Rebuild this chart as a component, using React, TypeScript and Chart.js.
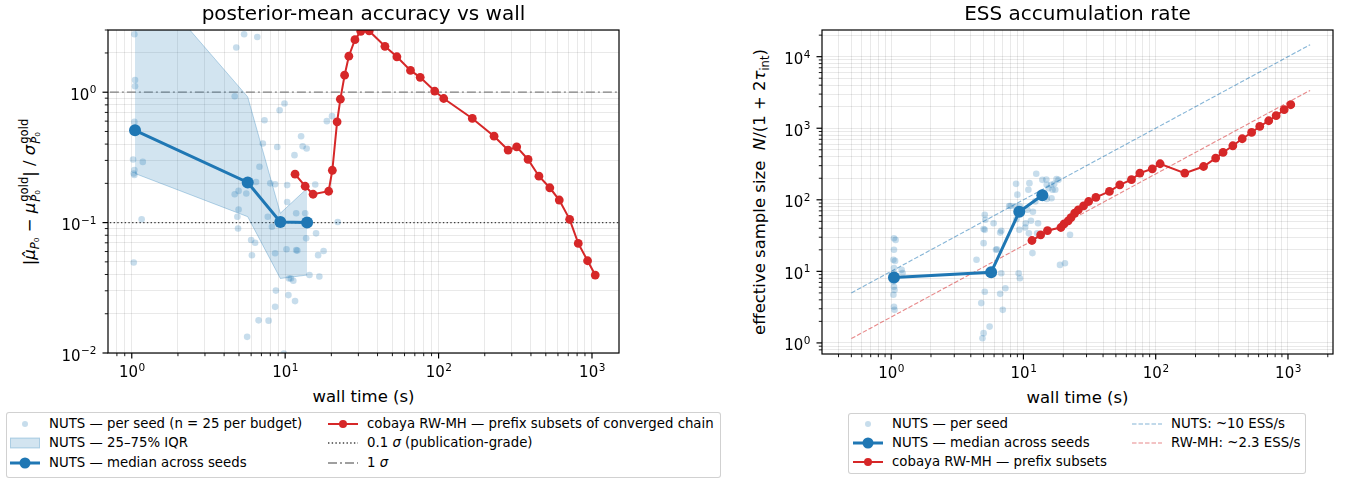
import React, { useEffect, useRef } from 'react';
import { Chart, registerables } from 'chart.js';

Chart.register(...registerables);

const FONT = "'DejaVu Sans', 'Liberation Sans', sans-serif";
const BLUE = '#1f77b4';
const RED = '#d62728';
const BLUE_SEED = 'rgba(31,119,180,0.25)';
const BLUE_BAND = 'rgba(31,119,180,0.2)';
const BLUE_BAND_EDGE = 'rgba(31,119,180,0.3)';
const BLUE_REF = 'rgba(31,119,180,0.55)';
const RED_REF = 'rgba(214,39,40,0.55)';

// ---------- shared budgets (NUTS) ----------
const budgetWall = [1.05, 5.7, 9.3, 13.9];

// ---------- left panel: posterior-mean accuracy ----------
const accMedian = [0.51, 0.203, 0.101, 0.1];
const accQ75 = [9.2, 0.92, 0.118, 0.183];
const accQ25 = [0.238, 0.111, 0.0373, 0.0396];

const seedWallAcc = [
  1.04, 1.05, 1.05, 1.04, 1.02, 1.18, 1.04, 1.03, 1.04, 1.16, 1.03,
  4.8, 5.4, 6.58, 4.69, 7.33, 7.15, 6.8, 6.46, 4.97, 5.58, 4.69, 4.97, 4.88, 4.93, 6.0, 6.37, 6.07, 6.71, 5.65,
  9.2, 9.9, 8.88, 8.0, 8.6, 10.3, 10.3, 7.7, 8.2, 8.6, 10.2, 11.8, 12.0, 10.6, 10.9, 11.3, 8.7, 10.5, 11.6, 8.6, 7.8, 9.8,
  11.5, 12.7, 13.0, 13.8, 11.8, 13.5, 13.7, 15.9, 16.4, 17.8, 14.4, 16.7, 15.7, 18.7, 20.2, 22.0,
];
const seedAcc = [
  2.78, 1.24, 1.11, 0.592, 0.305, 0.292, 0.253, 0.238, 0.232, 0.106, 0.0495,
  2.2, 2.78, 2.65, 0.93, 0.61, 0.404, 0.268, 0.205, 0.175, 0.167, 0.165, 0.126, 0.111, 0.09, 0.0735, 0.07, 0.0562, 0.0178, 0.0133,
  0.727, 0.82, 0.38, 0.2, 0.197, 0.194, 0.144, 0.111, 0.093, 0.0582, 0.0625, 0.0615, 0.061, 0.0373, 0.0373, 0.0358, 0.0301, 0.0278, 0.025, 0.0226, 0.0177, 0.0099,
  0.329, 0.46, 0.385, 0.37, 0.118, 0.118, 0.0757, 0.0827, 0.0563, 0.0606, 0.0396, 0.0386, 0.196, 0.6, 0.655, 0.101,
];

const rwWall = [
  11.6, 13.5, 15.2, 19.2, 20.3, 21.8, 22.9, 24.4, 26.0, 28.5, 31.1, 35.3, 44.7, 53.5, 65.6,
  75.9, 94.3, 108, 166, 230, 284, 323, 383, 451, 531, 612, 715, 814, 936, 1050,
];
const rwAcc = [
  0.235, 0.19, 0.165, 0.174, 0.252, 0.593, 0.884, 1.35, 1.89, 2.53, 2.93, 2.95, 2.25, 1.87, 1.47,
  1.3, 1.02, 0.895, 0.629, 0.46, 0.36, 0.381, 0.305, 0.227, 0.185, 0.149, 0.106, 0.0692, 0.051, 0.0396,
];

const pubGrade = 0.1;
const oneSigma = 1;

// ---------- right panel: ESS ----------
const essMedian = [8.2, 9.7, 68, 116];
const rwEss = [
  27, 32.4, 37.2, 41, 46.2, 50.8, 56.5, 65.2, 72.4, 82.5, 94.7, 108, 131, 162, 191,
  236, 271, 319, 236, 292, 383, 459, 569, 713, 873, 1059, 1273, 1496, 1815, 2131,
];
const seedWallEss = [
  1.05, 1.08, 1.05, 1.04, 1.07, 1.05, 1.2, 1.05, 1.22, 1.06, 1.04, 1.05, 1.06, 1.04, 1.05, 1.06,
  4.42, 5.1, 5.15, 5.0, 5.1, 5.95, 5.0, 6.3, 6.2, 6.67, 6.8, 5.1, 4.8, 4.9, 5.0, 5.55, 6.67, 7.3, 6.98, 6.8, 7.8,
  8.8, 9.0, 8.7, 8.0, 9.4, 8.85, 9.3, 10.4, 10.3, 9.2, 9.4, 11.7, 11.1, 10.9, 10.7, 11.8, 11.4,
  12.5, 13.9, 14.9, 15.5, 16.2, 17.4, 17.8, 12.7, 12.3, 15.0, 15.0, 17.1, 18.4, 16.6, 16.3, 11.0, 12.9, 18.9, 20.6, 22.5,
];
const seedEss = [
  29, 27.5, 20, 14.5, 14, 11.1, 10.5, 9.4, 9.5, 8.5, 7.2, 6.1, 5.5, 4.7, 3.2, 2.9,
  14.5, 61.7, 52.6, 39, 38, 47, 24.8, 20.4, 20, 34.8, 37, 5.2, 3.6, 1.16, 1.37, 1.69, 4.85, 5.8, 2.9, 9.4, 82,
  167, 118, 81, 82, 81, 53.6, 38, 47, 41, 9.4, 8.0, 18, 171, 138, 72.6, 68, 51,
  231, 190, 192, 145, 162, 138, 195, 34, 95, 103, 162, 167, 190, 138, 105, 34, 47, 12.3, 13, 32.4,
];

const refWall = [0.5, 1470];
const nutsRefEss = [5, 14700];
const rwRefEss = [1.15, 3380];

// ---------- axis limits ----------
const L_XMIN = 0.72, L_XMAX = 1500, L_YMIN = 0.01, L_YMAX = 3;
const R_XMIN = 0.34, R_XMAX = 2190, R_YMIN = 0.716, R_YMAX = 23600;

const zip = (xs: number[], ys: number[]) => xs.map((x, i) => ({ x, y: ys[i] }));

const isPow10 = (v: number) => {
  const l = Math.log10(v);
  return Math.abs(l - Math.round(l)) < 1e-6;
};
const expText = (v: number) => String(Math.round(Math.log10(v))).replace('-', '\u2212');

const logTicks = (min: number, max: number) => {
  const out: number[] = [];
  for (let e = Math.floor(Math.log10(min)); e <= Math.ceil(Math.log10(max)); e++) {
    for (let m = 1; m <= 9; m++) {
      const v = parseFloat((m * Math.pow(10, e)).toPrecision(6));
      if (v >= min && v <= max) out.push(v);
    }
  }
  return out;
};

const logAxis = (min: number, max: number, size: number, isX: boolean) => ({
  type: 'logarithmic',
  min,
  max,
  afterBuildTicks: (s: any) => {
    s.ticks = logTicks(min, max).map((v) => ({ value: v }));
  },
  afterFit: (s: any) => {
    if (isX) s.height = size;
    else s.width = size;
  },
  grid: { color: 'rgba(0,0,0,0.085)', lineWidth: 1, drawTicks: false },
  border: { display: false },
  ticks: {
    autoSkip: false,
    maxRotation: 0,
    minRotation: 0,
    padding: 4,
    font: { family: FONT, size: 15 },
    // labels are drawn by the powerLabels plugin (10 with a raised exponent)
    callback: () => '',
  },
});

const BASE_FONT = `15px ${FONT}`;
const EXP_FONT = `10.5px ${FONT}`;

const frameTicks = {
  id: 'frameTicks',
  afterDraw(chart: any) {
    const { ctx, chartArea: a, scales } = chart;
    ctx.save();
    ctx.strokeStyle = '#000';
    ctx.fillStyle = '#000';
    const xs = scales.x;
    const ys = scales.y;
    ctx.textBaseline = 'alphabetic';
    ctx.textAlign = 'left';
    for (const t of xs.ticks) {
      const p = xs.getPixelForValue(t.value);
      if (p < a.left - 0.5 || p > a.right + 0.5) continue;
      const major = isPow10(t.value);
      ctx.lineWidth = major ? 1.2 : 0.9;
      const len = major ? 5.5 : 3.2;
      ctx.beginPath();
      ctx.moveTo(p, a.bottom);
      ctx.lineTo(p, a.bottom + len);
      ctx.stroke();
      if (major) {
        ctx.font = BASE_FONT;
        const w1 = ctx.measureText('10').width;
        ctx.font = EXP_FONT;
        const e = expText(t.value);
        const w2 = ctx.measureText(e).width;
        const x0 = p - (w1 + w2) / 2;
        const by = a.bottom + 24;
        ctx.font = BASE_FONT;
        ctx.fillText('10', x0, by);
        ctx.font = EXP_FONT;
        ctx.fillText(e, x0 + w1 + 0.5, by - 6.5);
      }
    }
    for (const t of ys.ticks) {
      const p = ys.getPixelForValue(t.value);
      if (p < a.top - 0.5 || p > a.bottom + 0.5) continue;
      const major = isPow10(t.value);
      ctx.lineWidth = major ? 1.2 : 0.9;
      const len = major ? 5.5 : 3.2;
      ctx.beginPath();
      ctx.moveTo(a.left, p);
      ctx.lineTo(a.left - len, p);
      ctx.stroke();
      if (major) {
        ctx.font = BASE_FONT;
        const w1 = ctx.measureText('10').width;
        ctx.font = EXP_FONT;
        const e = expText(t.value);
        const w2 = ctx.measureText(e).width;
        const x0 = a.left - 12 - (w1 + w2);
        const by = p + 7.5;
        ctx.font = BASE_FONT;
        ctx.fillText('10', x0, by);
        ctx.font = EXP_FONT;
        ctx.fillText(e, x0 + w1 + 0.5, by - 6.5);
      }
    }
    ctx.lineWidth = 1.2;
    ctx.strokeRect(a.left, a.top, a.right - a.left, a.bottom - a.top);
    ctx.restore();
  },
};

function baseOptions(xmin: number, xmax: number, ymin: number, ymax: number, yAxisWidth: number, padRight: number) {
  return {
    animation: false,
    responsive: false,
    devicePixelRatio: 1,
    events: [],
    layout: { padding: { left: 0, top: 30, right: padRight, bottom: 0 } },
    plugins: { legend: { display: false }, tooltip: { enabled: false }, title: { display: false } },
    scales: {
      x: logAxis(xmin, xmax, 32, true),
      y: logAxis(ymin, ymax, yAxisWidth, false),
    },
    elements: { line: { tension: 0 } },
  };
}

function LeftChart() {
  const ref = useRef<HTMLCanvasElement>(null);
  useEffect(() => {
    const chart = new Chart(ref.current as HTMLCanvasElement, {
      type: 'line',
      data: {
        datasets: [
          {
            label: '1σ',
            data: zip([L_XMIN, L_XMAX], [oneSigma, oneSigma]),
            borderColor: '#808080', borderWidth: 1.3, borderDash: [9, 3, 2, 3],
            pointRadius: 0, fill: false, order: 9, clip: 0,
          },
          {
            label: '0.1σ',
            data: zip([L_XMIN, L_XMAX], [pubGrade, pubGrade]),
            borderColor: '#404040', borderWidth: 1.3, borderDash: [1.4, 2.3],
            pointRadius: 0, fill: false, order: 9, clip: 0,
          },
          {
            label: 'IQR upper',
            data: zip(budgetWall, accQ75),
            borderColor: BLUE_BAND_EDGE, borderWidth: 1, backgroundColor: BLUE_BAND,
            pointRadius: 0, fill: '+1', order: 8, clip: 0,
          },
          {
            label: 'IQR lower',
            data: zip(budgetWall, accQ25),
            borderColor: BLUE_BAND_EDGE, borderWidth: 1,
            pointRadius: 0, fill: false, order: 8, clip: 0,
          },
          {
            label: 'NUTS per seed',
            data: zip(seedWallAcc, seedAcc),
            showLine: false, pointRadius: 3.3, pointBackgroundColor: BLUE_SEED, pointBorderWidth: 0,
            borderColor: BLUE_SEED, order: 7, clip: 0,
          },
          {
            label: 'NUTS median',
            data: zip(budgetWall, accMedian),
            borderColor: BLUE, borderWidth: 3, pointRadius: 6, pointBackgroundColor: BLUE,
            pointBorderWidth: 0, fill: false, order: 2, clip: 0,
          },
          {
            label: 'cobaya RW-MH',
            data: zip(rwWall, rwAcc),
            borderColor: RED, borderWidth: 2, pointRadius: 4.4, pointBackgroundColor: RED,
            pointBorderWidth: 0, fill: false, order: 1, clip: 0,
          },
        ],
      },
      options: baseOptions(L_XMIN, L_XMAX, L_YMIN, L_YMAX, 58, 21) as any,
      plugins: [frameTicks],
    } as any);
    return () => chart.destroy();
  }, []);
  return <canvas ref={ref} width={590} height={385} style={{ position: 'absolute', left: 50, top: 0, width: 590, height: 385 }} />;
}

function RightChart() {
  const ref = useRef<HTMLCanvasElement>(null);
  useEffect(() => {
    const chart = new Chart(ref.current as HTMLCanvasElement, {
      type: 'line',
      data: {
        datasets: [
          {
            label: 'NUTS per seed',
            data: zip(seedWallEss, seedEss),
            showLine: false, pointRadius: 3.3, pointBackgroundColor: BLUE_SEED, pointBorderWidth: 0,
            borderColor: BLUE_SEED, order: 7, clip: 0,
          },
          {
            label: 'NUTS ~10 ESS/s',
            data: zip(refWall, nutsRefEss),
            borderColor: BLUE_REF, borderWidth: 1.1, borderDash: [4.5, 2],
            pointRadius: 0, fill: false, order: 5, clip: 0,
          },
          {
            label: 'RW-MH ~2.3 ESS/s',
            data: zip(refWall, rwRefEss),
            borderColor: RED_REF, borderWidth: 1.1, borderDash: [4.5, 2],
            pointRadius: 0, fill: false, order: 5, clip: 0,
          },
          {
            label: 'NUTS median',
            data: zip(budgetWall, essMedian),
            borderColor: BLUE, borderWidth: 3, pointRadius: 6, pointBackgroundColor: BLUE,
            pointBorderWidth: 0, fill: false, order: 2, clip: 0,
          },
          {
            label: 'cobaya RW-MH',
            data: zip(rwWall, rwEss),
            borderColor: RED, borderWidth: 2, pointRadius: 4.4, pointBackgroundColor: RED,
            pointBorderWidth: 0, fill: false, order: 1, clip: 0,
          },
        ],
      },
      options: baseOptions(R_XMIN, R_XMAX, R_YMIN, R_YMAX, 42, 13) as any,
      plugins: [frameTicks],
    } as any);
    return () => chart.destroy();
  }, []);
  return <canvas ref={ref} width={566} height={386} style={{ position: 'absolute', left: 780, top: 0, width: 566, height: 386 }} />;
}

// ---------- legend handles ----------
const H = 16;
function Dot() {
  return (
    <svg width={30} height={H}><circle cx={15} cy={H / 2} r={3} fill={BLUE_SEED} /></svg>
  );
}
function Band() {
  return (
    <svg width={30} height={H}><rect x={0.5} y={3} width={29} height={10} fill={BLUE_BAND} stroke={BLUE_BAND_EDGE} strokeWidth={1} /></svg>
  );
}
function LineMarker({ color, w, r }: { color: string; w: number; r: number }) {
  return (
    <svg width={30} height={H}>
      <line x1={0} y1={H / 2} x2={30} y2={H / 2} stroke={color} strokeWidth={w} />
      <circle cx={15} cy={H / 2} r={r} fill={color} />
    </svg>
  );
}
function Dashed({ color, dash, w }: { color: string; dash: string; w: number }) {
  return (
    <svg width={30} height={H}>
      <line x1={0} y1={H / 2} x2={30} y2={H / 2} stroke={color} strokeWidth={w} strokeDasharray={dash} />
    </svg>
  );
}

function Item({ hx, tx, y, handle, children }: { hx: number; tx: number; y: number; handle: React.ReactNode; children: React.ReactNode }) {
  return (
    <>
      <div style={{ position: 'absolute', left: hx, top: y - H / 2, width: 30, height: H }}>{handle}</div>
      <div style={{ position: 'absolute', left: tx, top: y - 9, height: 18, lineHeight: '18px', fontSize: 13.3, whiteSpace: 'nowrap', color: '#000' }}>{children}</div>
    </>
  );
}

const legendBox = (left: number, top: number, width: number, height: number): React.CSSProperties => ({
  position: 'absolute', left, top, width, height, boxSizing: 'border-box',
  border: '1px solid rgba(204,204,204,0.9)', borderRadius: 3, background: 'rgba(255,255,255,0.8)',
});

const sigma = <span style={{ fontStyle: 'italic' }}>σ</span>;

function Stack({ top, bottom }: { top: React.ReactNode; bottom: React.ReactNode }) {
  return (
    <span style={{ display: 'inline-flex', flexDirection: 'column', fontSize: '0.7em', lineHeight: 1, verticalAlign: '7px', marginLeft: 1 }}>
      <span>{top}</span>
      <span>{bottom}</span>
    </span>
  );
}
const P0 = <span><i>P</i>₀</span>;

export default function App() {
  return (
    <div style={{ position: 'fixed', left: 0, top: 0, width: 1346, height: 481, background: '#fff', fontFamily: FONT, color: '#000', overflow: 'hidden' }}>
      <LeftChart />
      <RightChart />

      {/* titles */}
      <div style={{ position: 'absolute', left: 108, width: 511, top: 0, height: 26, lineHeight: '26px', textAlign: 'center', fontSize: 20 }}>
        posterior-mean accuracy vs wall
      </div>
      <div style={{ position: 'absolute', left: 822, width: 511, top: 0, height: 26, lineHeight: '26px', textAlign: 'center', fontSize: 20 }}>
        ESS accumulation rate
      </div>

      {/* x labels */}
      <div style={{ position: 'absolute', left: 108, width: 511, top: 387, height: 20, lineHeight: '20px', textAlign: 'center', fontSize: 16.5 }}>
        wall time (s)
      </div>
      <div style={{ position: 'absolute', left: 822, width: 511, top: 388, height: 20, lineHeight: '20px', textAlign: 'center', fontSize: 16.5 }}>
        wall time (s)
      </div>

      {/* y labels */}
      <div style={{ position: 'absolute', left: 32, top: 192, transform: 'translate(-50%, -50%) rotate(-90deg)', whiteSpace: 'nowrap', fontSize: 16.5, lineHeight: '24px' }}>
        |<i>μ̂</i><span style={{ fontSize: '0.7em', verticalAlign: '-4px' }}>{P0}</span>
        {' − '}
        <i>μ</i><Stack top="gold" bottom={P0} />| / <i>σ</i><Stack top="gold" bottom={P0} />
      </div>
      <div style={{ position: 'absolute', left: 762, top: 192, transform: 'translate(-50%, -50%) rotate(-90deg)', whiteSpace: 'pre', fontSize: 16.5, lineHeight: '24px' }}>
        {'effective sample size  '}<i>N</i>/(1 + 2<i>τ</i><span style={{ fontSize: '0.7em', verticalAlign: '-4px' }}>int</span>)
      </div>

      {/* left legend */}
      <div style={legendBox(6, 412, 715, 66)} />
      <Item hx={10} tx={49} y={423.5} handle={<Dot />}>NUTS — per seed (n = 25 per budget)</Item>
      <Item hx={10} tx={49} y={443} handle={<Band />}>NUTS — 25–75% IQR</Item>
      <Item hx={10} tx={49} y={462.5} handle={<LineMarker color={BLUE} w={3} r={5.5} />}>NUTS — median across seeds</Item>
      <Item hx={328} tx={367} y={423.5} handle={<LineMarker color={RED} w={2} r={4} />}>cobaya RW-MH — prefix subsets of converged chain</Item>
      <Item hx={328} tx={367} y={443} handle={<Dashed color="#404040" dash="1.4 2.3" w={1.3} />}>0.1 {sigma} (publication-grade)</Item>
      <Item hx={328} tx={367} y={462.5} handle={<Dashed color="#808080" dash="9 3 2 3" w={1.3} />}>1 {sigma}</Item>

      {/* right legend */}
      <div style={legendBox(848, 413, 458, 61)} />
      <Item hx={853} tx={892} y={424} handle={<Dot />}>NUTS — per seed</Item>
      <Item hx={853} tx={892} y={443} handle={<LineMarker color={BLUE} w={3} r={5.5} />}>NUTS — median across seeds</Item>
      <Item hx={853} tx={892} y={462} handle={<LineMarker color={RED} w={2} r={4} />}>cobaya RW-MH — prefix subsets</Item>
      <Item hx={1132} tx={1171} y={424} handle={<Dashed color={BLUE_REF} dash="4.5 2" w={1.1} />}>NUTS: ~10 ESS/s</Item>
      <Item hx={1132} tx={1171} y={443} handle={<Dashed color={RED_REF} dash="4.5 2" w={1.1} />}>RW-MH: ~2.3 ESS/s</Item>
    </div>
  );
}
